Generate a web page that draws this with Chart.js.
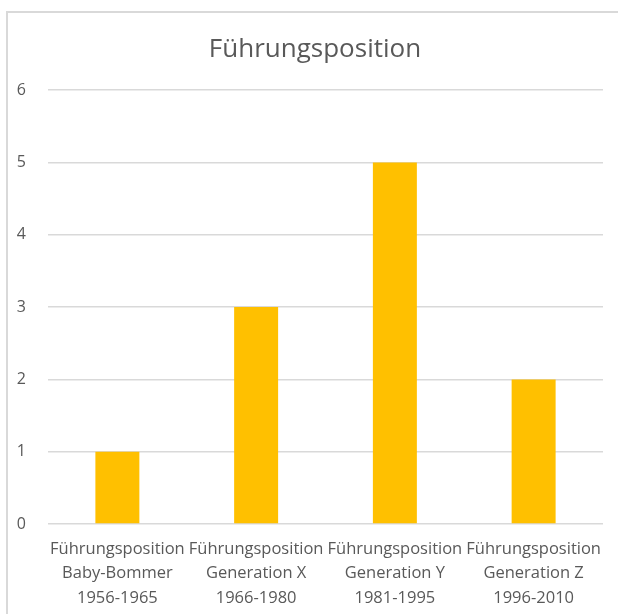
<!DOCTYPE html>
<html>
<head>
<meta charset="utf-8">
<script src="https://cdn.jsdelivr.net/npm/chart.js@4"></script>
<style>
  html, body { margin: 0; padding: 0; background: #fff; overflow: hidden; }
  #wrap { position: relative; width: 618px; height: 614px; overflow: hidden; }
  #frame { position: absolute; left: 6px; top: 11px; width: 640px; height: 640px; border: 2px solid #d9d9d9; box-sizing: border-box; }
  canvas { position: absolute; left: 0; top: 0; }
</style>
</head>
<body>
<div id="wrap">
  <div id="frame"></div>
  <canvas id="myChart" width="630" height="614"></canvas>
</div>
<script>
'use strict';
// chart data
var chartTitle = 'Führungsposition';
var categories = [
  ['Führungsposition', 'Baby-Bommer', '1956-1965'],
  ['Führungsposition', 'Generation X', '1966-1980'],
  ['Führungsposition', 'Generation Y', '1981-1995'],
  ['Führungsposition', 'Generation Z', '1996-2010']
];
var values = [1, 3, 5, 2];
var yMin = 0;
var yMax = 6;
var yStep = 1;

var textColor = '#595959';
var gridColor = '#d9d9d9';
var barColor = '#ffc000';
var fontFamily = '"Open Sans", sans-serif';

var ctx = document.getElementById('myChart').getContext('2d');
// eslint-disable-next-line no-undef
new Chart(ctx, {
  type: 'bar',
  data: {
    labels: categories,
    datasets: [{
      label: chartTitle,
      data: values,
      backgroundColor: barColor,
      borderWidth: 0,
      barPercentage: 0.634,
      categoryPercentage: 0.5
    }]
  },
  options: {
    responsive: false,
    animation: false,
    layout: {
      padding: { left: 0, right: 0, top: 12, bottom: 0 }
    },
    plugins: {
      legend: { display: false },
      tooltip: { enabled: false },
      title: {
        display: true,
        text: chartTitle,
        color: textColor,
        font: { family: fontFamily, size: 26, weight: 'normal', lineHeight: 1.2 },
        padding: { top: 22, bottom: 25 }
      }
    },
    scales: {
      x: {
        grid: { display: false },
        border: { display: false },
        ticks: {
          color: textColor,
          font: { family: fontFamily, size: 16.5, lineHeight: 1.48 },
          padding: 5,
          maxRotation: 0,
          autoSkip: false
        },
        afterFit: function (scale) { scale.height = 90; }
      },
      y: {
        min: yMin,
        max: yMax,
        grid: { color: gridColor, lineWidth: 1.5, drawTicks: false },
        border: { display: false },
        ticks: {
          stepSize: yStep,
          color: textColor,
          font: { family: fontFamily, size: 16 },
          padding: 22
        },
        afterFit: function (scale) { scale.width = 48; }
      },
      // empty right margin so the title centres on the frame
      yRight: {
        position: 'right',
        min: yMin,
        max: yMax,
        grid: { display: false },
        border: { display: false },
        ticks: { display: false },
        afterFit: function (scale) { scale.width = 27; }
      }
    }
  }
});
</script>
</body>
</html>
